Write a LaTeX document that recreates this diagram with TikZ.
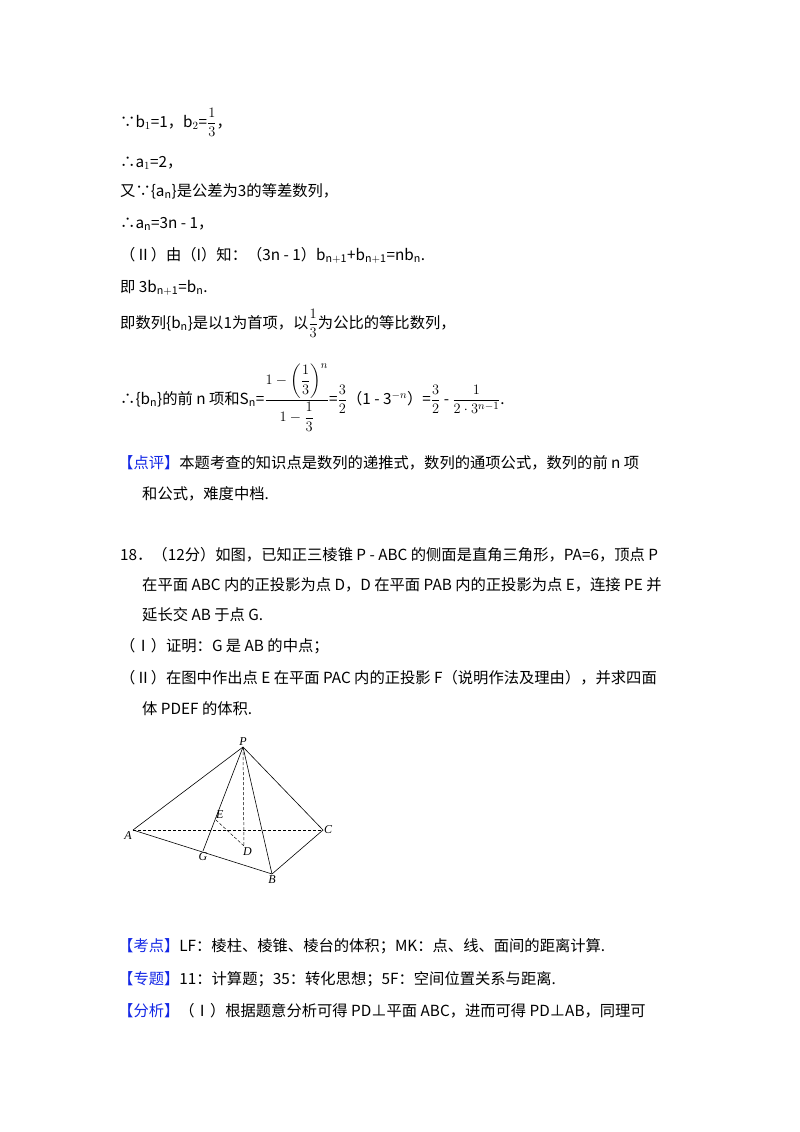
\documentclass[tikz,border=0pt]{standalone}
\usepackage{amsmath}
\usepackage{fontspec}
\setmainfont{Noto Sans CJK SC}
\newfontfamily\figfont{Liberation Serif}
\definecolor{hdblue}{RGB}{20,40,230}
\begin{document}
\begin{tikzpicture}[x=1pt,y=-1pt,
 tx/.style={anchor=base west,inner sep=0pt,font=\fontsize{15.3}{18}\selectfont},
 lbl/.style={font=\figfont\itshape\fontsize{12}{14}\selectfont,inner sep=1pt},
 edge/.style={line width=0.6pt},
 hid/.style={line width=0.5pt,dashed,dash pattern=on 3pt off 2pt}]
\useasboundingbox[fill=white] (0,0) rectangle (800,1132);
\node[tx] (l1) at (120,127) {∵b$_1$=1，b$_2$=$\dfrac{1}{3}$，};
\node[tx] (l2) at (120,167) {∴a$_1$=2，};
\node[tx] (l3) at (120,196) {又∵\{a$_\mathrm{n}$\}是公差为3的等差数列，};
\node[tx] (l4) at (120,228) {∴a$_\mathrm{n}$=3n - 1，};
\node[tx] (l5) at (120,260) {（Ⅱ）由（I）知：（3n - 1）b$_{\mathrm{n+1}}$+b$_{\mathrm{n+1}}$=nb$_\mathrm{n}$.};
\node[tx] (l6) at (120,292) {即 3b$_{\mathrm{n+1}}$=b$_\mathrm{n}$.};
\node[tx] (l7) at (120,328) {即数列\{b$_\mathrm{n}$\}是以1为首项，以$\dfrac{1}{3}$为公比的等比数列，};
\node[tx] (l8) at (120,404) {∴\{b$_\mathrm{n}$\}的前 n 项和S$_\mathrm{n}$=$\dfrac{1-\left(\dfrac{1}{3}\right)^{n}}{1-\dfrac{1}{3}}$=$\dfrac{3}{2}$（1 - 3$^{-n}$）=$\dfrac{3}{2}$ - $\dfrac{1}{2\cdot 3^{n-1}}$.};
\node[tx] (l9) at (118,468) {{\color{hdblue}【点评】}本题考查的知识点是数列的递推式，数列的通项公式，数列的前 n 项};
\node[tx] (l10) at (142,499) {和公式，难度中档.};
\node[tx] (l11) at (120,560) {18．（12分）如图，已知正三棱锥 P - ABC 的侧面是直角三角形，PA=6，顶点 P};
\node[tx] (l12) at (142,590) {在平面 ABC 内的正投影为点 D，D 在平面 PAB 内的正投影为点 E，连接 PE 并};
\node[tx] (l13) at (142,620) {延长交 AB 于点 G.};
\node[tx] (l14) at (120,651) {（Ⅰ）证明：G 是 AB 的中点；};
\node[tx] (l15) at (120,683) {（Ⅱ）在图中作出点 E 在平面 PAC 内的正投影 F（说明作法及理由），并求四面};
\node[tx] (l16) at (142,714) {体 PDEF 的体积.};
% figure
\coordinate (P) at (243,747);
\coordinate (A) at (133,830);
\coordinate (C) at (323,830);
\coordinate (B) at (272,874);
\coordinate (G) at (203,851);
\coordinate (E) at (216,820);
\coordinate (D) at (244,846);
\draw[edge] (A)--(P)--(C)--(B)--(A);
\draw[edge] (P)--(B);
\draw[edge] (P)--(G);
\draw[hid] (A)--(C);
\draw[hid] (P)--(D);
\draw[hid] (E)--(D);
\node[lbl,above] (nP) at (P) {P};
\node[lbl,below left] (nA) at (A) {A};
\node[lbl,right] (nC) at (C) {C};
\node[lbl,below] (nB) at (B) {B};
\node[lbl,below] (nG) at (G) {G};
\node[lbl,above right,xshift=-1pt] (nE) at (E) {E};
\node[lbl,below right,xshift=-2pt] (nD) at (D) {D};
\node[tx] (l17) at (118,951) {{\color{hdblue}【考点】}LF：棱柱、棱锥、棱台的体积；MK：点、线、面间的距离计算.};
\node[tx] (l18) at (118,984) {{\color{hdblue}【专题】}11：计算题；35：转化思想；5F：空间位置关系与距离.};
\node[tx] (l19) at (118,1016) {{\color{hdblue}【分析】}（Ⅰ）根据题意分析可得 PD⊥平面 ABC，进而可得 PD⊥AB，同理可};
\end{tikzpicture}
\end{document}
